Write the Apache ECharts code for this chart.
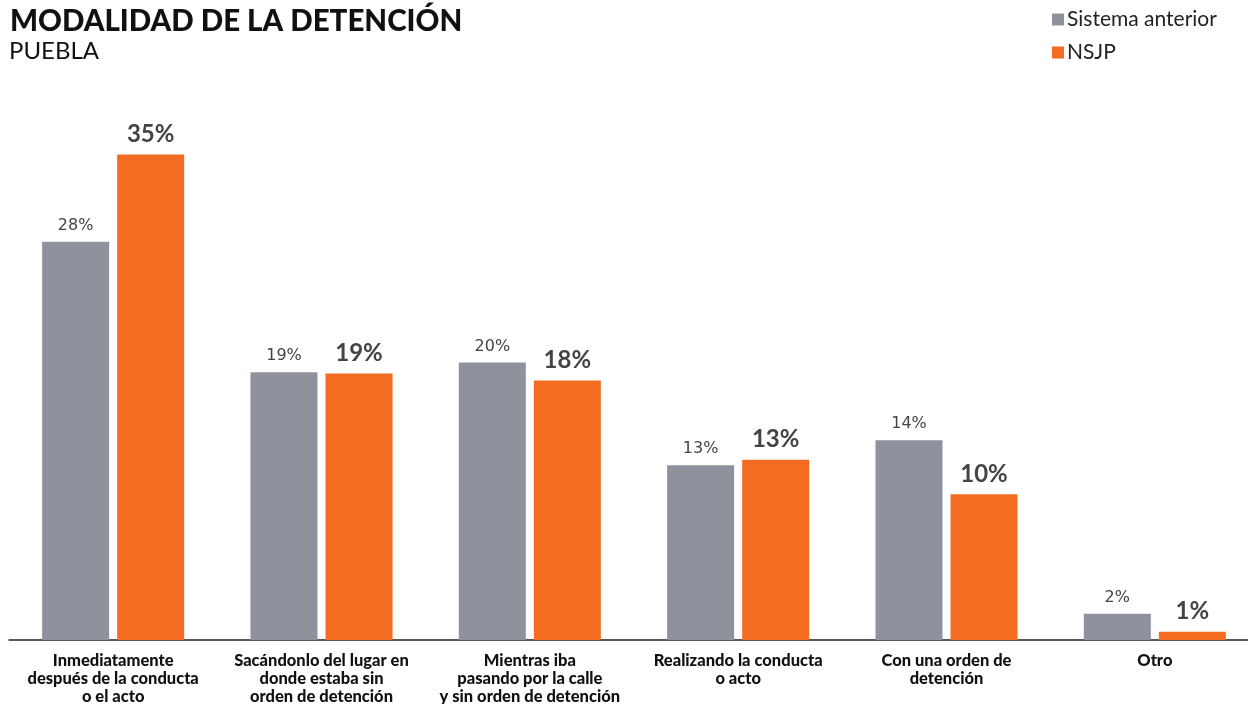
<!DOCTYPE html>
<html>
<head>
<meta charset="utf-8">
<script src="https://cdn.jsdelivr.net/npm/echarts@6/dist/echarts.min.js"></script>
<style>
  html, body { margin: 0; padding: 0; background: #fff; }
  #chart { width: 1248px; height: 704px; }
</style>
</head>
<body>
<div id="chart"></div>
<script>
  const categories = [
    'Inmediatamente\ndespués de la conducta\no el acto',
    'Sacándonlo del lugar en\ndonde estaba sin\norden de detención',
    'Mientras iba\npasando por la calle\ny sin orden de detención',
    'Realizando la conducta\no acto',
    'Con una orden de\ndetención',
    'Otro'
  ];
  // bar heights, labels as printed
  const anterior = [28.7, 19.3, 20.0, 12.6, 14.4, 1.9];
  const nsjp = [35.0, 19.2, 18.7, 13.0, 10.5, 0.6];
  const anteriorLabels = ['28%', '19%', '20%', '13%', '14%', '2%'];
  const nsjpLabels = ['35%', '19%', '18%', '13%', '10%', '1%'];

  const grey = '#8e929d';
  const orange = '#f26c22';

  const chart = echarts.init(document.getElementById('chart'));
  chart.setOption({
    animation: false,
    title: [{
      text: 'MODALIDAD DE LA DETENCIÓN',
      left: 5, top: 1,
      textStyle: { fontFamily: 'Lato', fontWeight: 900, fontSize: 29.5, color: '#111' }
    }, {
      text: 'PUEBLA',
      left: 4, top: 34,
      textStyle: { fontFamily: 'Lato', fontWeight: 'normal', fontSize: 24, color: '#111' }
    }],
    legend: {
      orient: 'vertical',
      left: 1047, top: 4,
      itemWidth: 12, itemHeight: 12, itemGap: 12,
      icon: 'rect',
      textStyle: { fontFamily: 'Lato', fontSize: 21, color: '#222', padding: [0, 0, 0, -2] },
      data: ['Sistema anterior', 'NSJP']
    },
    grid: { left: 9, right: -11, top: 85, bottom: 64, outerBoundsMode: 'none' },
    xAxis: {
      type: 'category',
      data: categories,
      axisLine: { lineStyle: { color: '#222', width: 1.5 } },
      axisTick: { show: false },
      axisLabel: {
        interval: 0,
        margin: 12,
        fontFamily: 'Lato', fontWeight: 900, fontSize: 16.5, lineHeight: 18, color: '#111'
      }
    },
    yAxis: {
      type: 'value', min: 0, max: 40,
      show: false, splitLine: { show: false }
    },
    series: [{
      name: 'Sistema anterior',
      type: 'bar',
      barWidth: 67,
      barGap: '12%',
      itemStyle: { color: grey },
      data: anterior,
      label: {
        show: true, position: 'top', distance: 8,
        formatter: p => anteriorLabels[p.dataIndex],
        fontFamily: 'DejaVu Sans', fontSize: 16, color: '#444'
      }
    }, {
      name: 'NSJP',
      type: 'bar',
      barWidth: 67,
      itemStyle: { color: orange },
      data: nsjp,
      label: {
        show: true, position: 'top', distance: 8,
        formatter: p => nsjpLabels[p.dataIndex],
        fontFamily: 'Lato', fontWeight: 'bold', fontSize: 24, color: '#444'
      }
    }]
  });
</script>
</body>
</html>
